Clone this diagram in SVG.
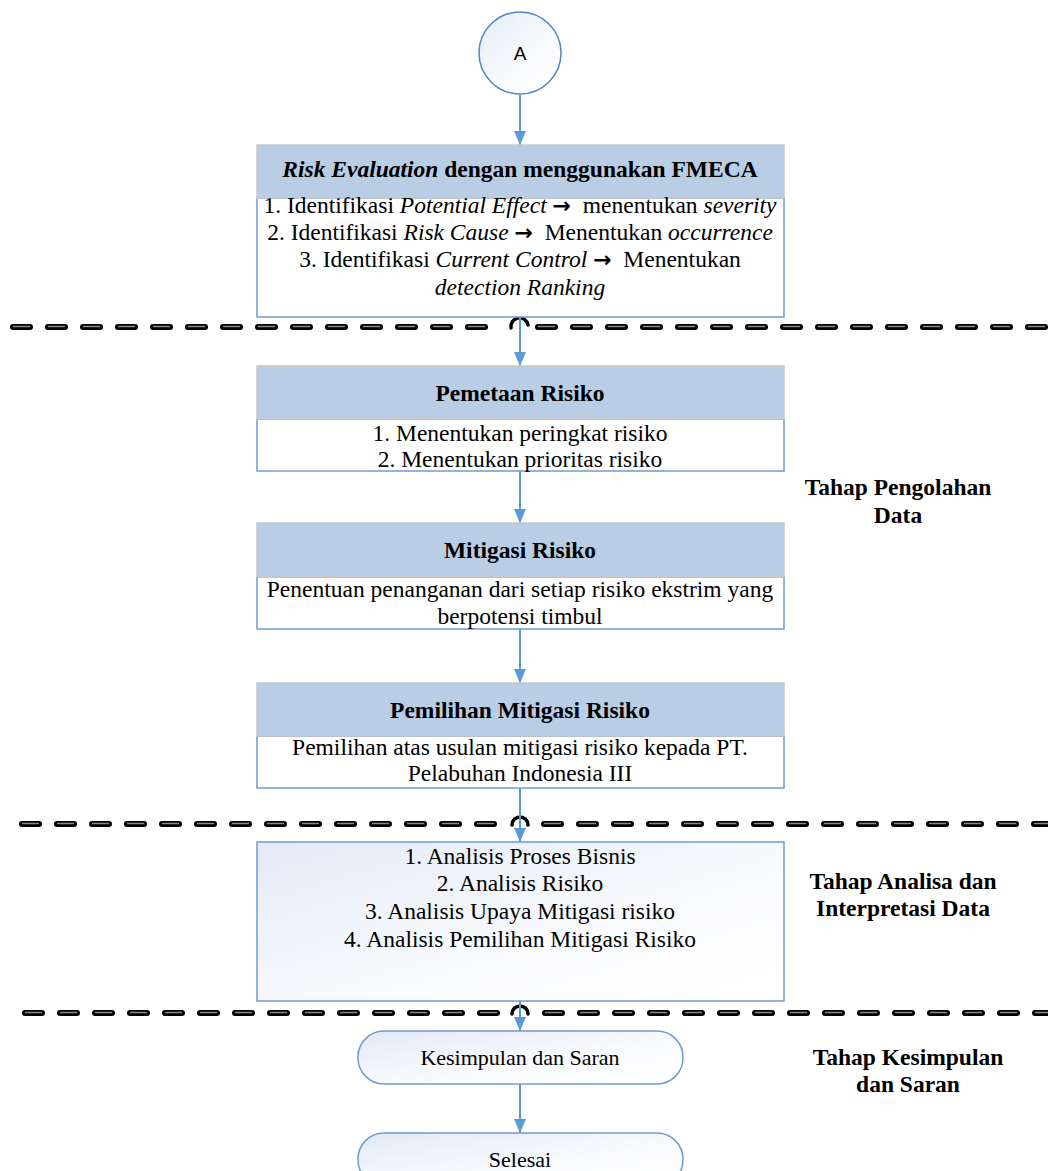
<svg xmlns="http://www.w3.org/2000/svg" width="1048" height="1171" viewBox="0 0 1048 1171">
  <style>
    .t { font-family: "Liberation Serif", "Times New Roman", serif; font-size: 23.5px; fill: #000; text-anchor: middle; }
    .s { font-size: 22px; }
    .b { font-weight: bold; }
    .i { font-style: italic; }
    .arr { font-family: "DejaVu Sans", sans-serif; font-weight: bold; font-size: 22px; }
    .lbl { font-family: "Liberation Serif", "Times New Roman", serif; font-size: 23.5px; font-weight: bold; fill: #000; text-anchor: middle; }
    .hdr { fill: #B9CDE5; stroke: #C8C8C8; stroke-width: 1.5; }
    .body { fill: #FFFFFF; stroke: #6E9BD3; stroke-width: 1.5; }
    .conn { fill: none; stroke: #5B9BD5; stroke-width: 2; marker-end: url(#ah); }
    .dash { fill: none; stroke: #000; stroke-width: 6; stroke-linecap: round; stroke-dasharray: 17 18; }
    .dashhi { fill: none; stroke: #8A8A8A; stroke-width: 1.4; stroke-dasharray: 17 18; }
    .hop { fill: none; stroke: #000; stroke-width: 3.5; stroke-linecap: round; }
  </style>
  <defs>
    <marker id="ah" markerUnits="userSpaceOnUse" markerWidth="14" markerHeight="12" refX="14" refY="6" orient="auto">
      <path d="M0,0 L14,6 L0,12 Z" fill="#5B9BD5"/>
    </marker>
    <linearGradient id="soft" x1="0" y1="0" x2="1" y2="1">
      <stop offset="0" stop-color="#E3EAF6"/>
      <stop offset="0.6" stop-color="#FAFBFE"/>
      <stop offset="1" stop-color="#FFFFFF"/>
    </linearGradient>
  </defs>

  <rect width="1048" height="1171" fill="#FFFFFF"/>

  <!-- phase separators -->
  <g id="separators">
    <path class="dash" d="M13,327 H490"/>
    <path class="dashhi" d="M13,326.5 H490"/>
    <path class="dash" d="M538,327 H1048"/>
    <path class="dashhi" d="M538,326.5 H1048"/>
    <path class="hop" d="M511,328 A8,8 0 0 1 528,325"/>

    <path class="dash" d="M22,824 H500"/>
    <path class="dashhi" d="M22,823.5 H500"/>
    <path class="dash" d="M544,824 H1048"/>
    <path class="dashhi" d="M544,823.5 H1048"/>
    <path class="hop" d="M512,825 A8,8 0 0 1 528,825"/>

    <path class="dash" d="M25,1013 H500"/>
    <path class="dashhi" d="M25,1012.5 H500"/>
    <path class="dash" d="M545,1013 H1048"/>
    <path class="dashhi" d="M545,1012.5 H1048"/>
    <path class="hop" d="M512,1014 A8,8 0 0 1 528,1014"/>
  </g>

  <!-- connectors -->
  <g id="connectors">
    <path class="conn" d="M520,95 V145"/>
    <path class="conn" d="M520,317 V366"/>
    <path class="conn" d="M520,471 V523"/>
    <path class="conn" d="M520,629 V683"/>
    <path class="conn" d="M520,788 V842"/>
    <path class="conn" d="M520,1001 V1031"/>
    <path class="conn" d="M520,1084 V1133"/>
  </g>

  <g id="start-A">
    <circle cx="520" cy="53" r="41" fill="url(#soft)" stroke="#4F86C6" stroke-width="1.5"/>
    <text x="520" y="60" font-family="'Liberation Sans', Arial, sans-serif" font-size="19" text-anchor="middle">A</text>
  </g>

  <g id="risk-evaluation">
    <rect class="body" x="257" y="198" width="527" height="119"/>
    <rect class="hdr" x="257" y="145" width="527" height="53"/>
    <text class="t b" y="177" x="520"><tspan class="i">Risk Evaluation</tspan> dengan menggunakan FMECA</text>
    <text class="t" x="520" y="213" xml:space="preserve">1. Identifikasi <tspan class="i">Potential Effect</tspan> <tspan class="arr">→</tspan>  menentukan <tspan class="i">severity</tspan></text>
    <text class="t" x="520" y="240" xml:space="preserve">2. Identifikasi <tspan class="i">Risk Cause</tspan> <tspan class="arr">→</tspan>  Menentukan <tspan class="i">occurrence</tspan></text>
    <text class="t" x="520" y="267" xml:space="preserve">3. Identifikasi <tspan class="i">Current Control</tspan> <tspan class="arr">→</tspan>  Menentukan</text>
    <text class="t i" x="520" y="295">detection Ranking</text>
  </g>

  <g id="pemetaan-risiko">
    <rect class="body" x="257" y="419" width="527" height="52"/>
    <rect class="hdr" x="257" y="366" width="527" height="53"/>
    <text class="t b" x="520" y="401">Pemetaan Risiko</text>
    <text class="t" x="520" y="441">1. Menentukan peringkat risiko</text>
    <text class="t" x="520" y="467">2. Menentukan prioritas risiko</text>
  </g>

  <g id="mitigasi-risiko">
    <rect class="body" x="257" y="577" width="527" height="52"/>
    <rect class="hdr" x="257" y="523" width="527" height="54"/>
    <text class="t b" x="520" y="558">Mitigasi Risiko</text>
    <text class="t" x="520" y="597">Penentuan penanganan dari setiap risiko ekstrim yang</text>
    <text class="t" x="520" y="624">berpotensi timbul</text>
  </g>

  <g id="pemilihan-mitigasi">
    <rect class="body" x="257" y="736" width="527" height="52"/>
    <rect class="hdr" x="257" y="683" width="527" height="53"/>
    <text class="t b" x="520" y="718">Pemilihan Mitigasi Risiko</text>
    <text class="t" x="520" y="755">Pemilihan atas usulan mitigasi risiko kepada PT.</text>
    <text class="t" x="520" y="781">Pelabuhan Indonesia III</text>
  </g>

  <g id="analisis">
    <rect x="257" y="842" width="527" height="159" fill="url(#soft)" stroke="#6E9BD3" stroke-width="1.5"/>
    <text class="t" x="520" y="864">1. Analisis Proses Bisnis</text>
    <text class="t" x="520" y="891">2. Analisis Risiko</text>
    <text class="t" x="520" y="919">3. Analisis Upaya Mitigasi risiko</text>
    <text class="t" x="520" y="947">4. Analisis Pemilihan Mitigasi Risiko</text>
  </g>

  <g id="kesimpulan">
    <rect x="358" y="1031" width="325" height="53" rx="26" ry="26" fill="url(#soft)" stroke="#6E9BD3" stroke-width="1.5"/>
    <text class="t s" x="520" y="1065">Kesimpulan dan Saran</text>
  </g>

  <g id="selesai">
    <rect x="358" y="1133" width="325" height="53" rx="26" ry="26" fill="url(#soft)" stroke="#6E9BD3" stroke-width="1.5"/>
    <text class="t s" x="520" y="1167">Selesai</text>
  </g>

  <g id="phase-labels">
    <text class="lbl" x="898" y="495">Tahap Pengolahan</text>
    <text class="lbl" x="898" y="523">Data</text>
    <text class="lbl" x="903" y="889">Tahap Analisa dan</text>
    <text class="lbl" x="903" y="916">Interpretasi Data</text>
    <text class="lbl" x="908" y="1065">Tahap Kesimpulan</text>
    <text class="lbl" x="908" y="1092">dan Saran</text>
  </g>
</svg>
